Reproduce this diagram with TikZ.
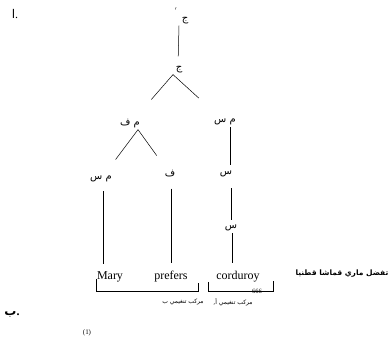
\documentclass[tikz,border=0pt]{standalone}
\usepackage{fontspec}
\setmainfont{Liberation Serif}
\newfontfamily\arabicfont[Script=Arabic]{DejaVu Sans}
\TeXXeTstate=1
\newcommand{\artxt}[1]{{\arabicfont\beginR #1\endR}}

\begin{document}
\begin{tikzpicture}[x=1pt,y=-1pt,line width=0.5pt,
  cat/.style={inner sep=1pt,font=\fontsize{10}{11}\selectfont},
  word/.style={inner sep=1pt,font=\fontsize{12}{14}\selectfont},
  gloss/.style={inner sep=1pt,font=\fontsize{6}{7}\selectfont}]
  \useasboundingbox (0,0) rectangle (389,339);

  % tree labels
  \node[cat,label={[inner sep=0pt,xshift=-3pt,yshift=3pt,font=\scriptsize]above left:$'$}] (jbar) at (185,21) {\artxt{ج}};
  \node[cat] (j) at (179,70) {\artxt{ج}};
  \node[cat] (mf) at (130,124) {\artxt{م ف}};
  \node[cat] (msa) at (225,122) {\artxt{م س}};
  \node[cat] (msb) at (101,179) {\artxt{م س}};
  \node[cat] (f) at (170,174) {\artxt{ف}};
  \node[cat] (sa) at (226,174) {\artxt{س}};
  \node[cat] (sb) at (231,228) {\artxt{س}};

  % words
  \node[word] (mary) at (110,277) {Mary};
  \node[word] (prefers) at (171,277) {prefers};
  \node[word] (cord) at (238,277) {corduroy};
  \node[gloss,font=\fontsize{7.5}{8}\selectfont\bfseries] (trans) at (342,274) {\artxt{تفضل ماري قماشا قطنيا}};

  % branches
  \draw[shorten >=9pt] ([xshift=-6pt]jbar.south) -- ([xshift=-1pt]j.north);
  \draw[shorten >=25pt] ([xshift=-6pt]j.south) -- (mf);
  \draw[shorten >=29pt] ([xshift=-6pt]j.south) -- (msa);
  \draw[shorten >=19pt] ([xshift=8pt]mf.south) -- (msb);
  \draw[shorten >=17pt] ([xshift=8pt]mf.south) -- (f);

  \draw[shorten <=8pt,shorten >=7pt] ([xshift=2pt]msb.south) -- ([xshift=2pt]msb.south |- mary.north);
  \draw[shorten <=10pt,shorten >=7pt] ([xshift=1pt]f.south) -- ([xshift=1pt]f.south |- prefers.north);
  \draw[shorten <=1pt,shorten >=5pt] ([xshift=5pt]msa.south) -- ([xshift=5pt]msa.south |- sa.north);
  \draw[shorten <=10pt,shorten >=4pt] ([xshift=5pt]sa.south) -- ([xshift=5pt]sa.south |- sb.north);
  \draw[shorten <=1pt,shorten >=7pt] ([xshift=1pt]sb.south) -- ([xshift=1pt]sb.south |- cord.north);

  % brackets
  \draw ([yshift=-2pt]mary.west) -- ++(0,12) -| ([xshift=9pt,yshift=-6pt]prefers.east);
  \draw ([xshift=-7pt,yshift=-5pt]cord.west) -- ++(0,9) -| ([xshift=12pt,yshift=-4pt]cord.east);

  % phrase names
  \node[gloss] (ipb) at (183,302) {\artxt{مركب تنغيمي ب}};
  \node[gloss] (ipa) at (233,302) {\artxt{مركب تنغيمي أ,}};
  \node[inner sep=0pt,font=\fontsize{6.5}{7}\selectfont] (page) at (257,291) {666};

  % example marks
  \node[inner sep=0pt,font=\fontsize{12}{14}\selectfont] (marka) at (15,14) {\artxt{ا}.};
  \node[inner sep=0pt,font=\fontsize{12}{14}\selectfont\bfseries] (markb) at (12,314) {\artxt{ب}.};
  \node[inner sep=0pt,font=\fontsize{7}{8}\selectfont] (exnum) at (87,333) {(1)};
\end{tikzpicture}
\end{document}
